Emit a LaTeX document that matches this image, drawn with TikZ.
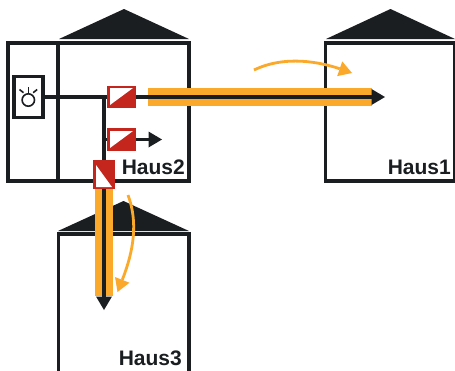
\documentclass[tikz,border=0pt]{standalone}
\usepackage{fontspec}
\setmainfont{Liberation Sans}
\usetikzlibrary{arrows.meta,positioning}
\definecolor{ink}{HTML}{1A1E20}
\definecolor{amber}{HTML}{FBA92B}
\definecolor{brick}{HTML}{C4261D}
\tikzset{
  wall/.style={draw=ink,line width=3.3pt,fill=none},
  roof/.style={fill=ink,draw=none},
  wire/.style={draw=ink,line width=3.2pt},
  wiretip/.style={wire,-{Triangle[length=13.5pt,width=16pt,line width=0pt]}},
  band/.style={draw=amber,line width=18pt},
  flow/.style={draw=amber,line width=2.8pt,-{Triangle[length=13pt,width=15.5pt,line width=0pt]}},
  label/.style={font=\bfseries\fontsize{21}{21}\selectfont,text=ink,inner sep=0pt,anchor=base east},
  lampbox/.style={draw=ink,line width=3.3pt,fill=white,minimum width=29pt,minimum height=40.5pt,inner sep=0pt},
  hbox/.style={fill=brick,draw=none,minimum width=29pt,minimum height=22.5pt,inner sep=0pt},
  vbox/.style={fill=brick,draw=none,minimum width=22.5pt,minimum height=29pt,inner sep=0pt},
}
\begin{document}
\begin{tikzpicture}[x=1pt,y=-1pt]
\useasboundingbox (0,0) rectangle (455,370);
\clip (0,0) rectangle (455,370);
\fill[white] (0,0) rectangle (455,370);
% houses
\fill[roof] (59,39) -- (124,9) -- (189,39) -- cycle;
\draw[wall] (8,43) rectangle (189,181);
\draw[wall] (58,43) -- (58,181);
\fill[roof] (326,39) -- (390.5,9) -- (455,39) -- cycle;
\draw[wall] (325.5,43) rectangle (455,181);
\fill[roof] (58,231) -- (123.5,201) -- (189,231) -- cycle;
\draw[wall] (58.5,375) -- (58.5,234) -- (189,234) -- (189,375);
% nodes
\node[lampbox] (lamp) at (28.4,97) {};
\node[hbox] (s1) at (121.5,97) {};
\node[hbox] (s2) at (121.5,139.5) {};
\node[vbox] (s3) at (104,174.5) {};
\coordinate (j1) at (104,97);
\coordinate (j2) at (104,139.5);
\coordinate (e1s) at (148,97);
\coordinate (e1) at (372,97);
\coordinate (e1t) at (385,97);
\coordinate (e2) at (162,139.5);
\coordinate (e3s) at (104,189);
\coordinate (e3) at (104,296);
\coordinate (e3t) at (104,310);
% bands
\draw[band] (e1s) -- (e1);
\draw[band] (e3s) -- (e3);
% wires
\draw[wire] (lamp.east) -- (s1.west);
\draw[wire] (j1) -- (s3.north);
\draw[wire] (j2) -- (s2.west);
\draw[wiretip] (s1.east) -- (e1t);
\draw[wiretip] (s2.east) -- (e2);
\draw[wiretip] (s3.south) -- (e3t);
% switch boxes, white triangles
\node[hbox] at (s1) {};
\node[hbox] at (s2) {};
\node[vbox] at (s3) {};
\fill[white] (110,88) -- (133,88) -- (110,105) -- cycle;
\fill[white] (110,131) -- (133,131) -- (110,148) -- cycle;
\fill[white] (96,165) -- (96,187) -- (112,187) -- cycle;
% lamp icon
\draw[ink,line width=1.6pt] (28.3,100) circle (6.2);
\draw[ink,line width=1.6pt] (28.3,87) -- (28.3,92.5);
\draw[ink,line width=1.6pt] (19.5,89.5) -- (23.5,92.7);
\draw[ink,line width=1.6pt] (37.2,89.5) -- (33.2,92.7);
% flow arrows
\coordinate (f1a) at (254,70);
\coordinate (f1b) at (352,73);
\coordinate (f2a) at (128,195);
\coordinate (f2b) at (117.5,292);
\draw[flow] (f1a) .. controls (285,55) and (320,62) .. (f1b);
\draw[flow] (f2a) .. controls (138,222) and (134,250) .. (f2b);
% labels
\node[label] (h2) at (185,174) {Haus2};
\node[label] (h1) at (451,174) {Haus1};
\node[label] (h3) at (182,365.5) {Haus3};
\end{tikzpicture}
\end{document}
